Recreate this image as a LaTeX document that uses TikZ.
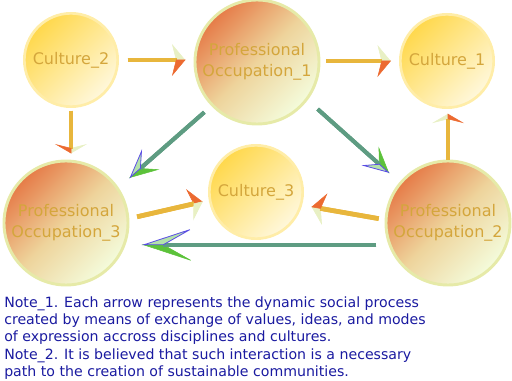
\documentclass[tikz,border=0pt]{standalone}
\usepackage{fontspec}
\setmainfont{DejaVu Sans}
\usetikzlibrary{arrows.meta}
\definecolor{cultTop}{HTML}{FFD84C}
\definecolor{cultBot}{HTML}{FFF8DC}
\definecolor{cultRim}{HTML}{FFEDA8}
\definecolor{profTop}{HTML}{E67C48}
\definecolor{profMid}{HTML}{EED49C}
\definecolor{profBot}{HTML}{F4FCDC}
\definecolor{profRim}{HTML}{E6EAA8}
\definecolor{labelGold}{HTML}{D4A63C}
\definecolor{warmLine}{HTML}{E8B63C}
\definecolor{warmRed}{HTML}{EC6A30}
\definecolor{warmPale}{HTML}{E8F0C4}
\definecolor{tealLine}{HTML}{5E9C82}
\definecolor{tealGreen}{HTML}{5CC23A}
\definecolor{tealPale}{HTML}{B4E2AC}
\definecolor{tealBlue}{HTML}{5A4CE6}
\definecolor{noteBlue}{HTML}{1A1AA0}

\begin{document}
\begin{tikzpicture}[x=0.75pt, y=-0.75pt,
  culture/.style={circle, minimum size=70pt, inner sep=0pt, draw=cultRim, line width=2pt,
                  top color=cultTop, bottom color=cultBot, shading angle=45,
                  text=labelGold, font=\fontsize{12}{16}\selectfont},
  prof/.style={circle, minimum size=93pt, inner sep=0pt, draw=profRim, line width=2.2pt,
               top color=profTop, bottom color=profBot, middle color=profMid, shading angle=45,
               align=center, text=labelGold, font=\fontsize{12}{16}\selectfont},
  warm/.style n args={3}{line width=3.5pt, draw=warmLine,
    -{Stealth[left, length=#3, width=24pt, inset=3pt, fill=#1, color=#1, line width=0.4pt]},
    postaction={draw=warmLine, line width=3.5pt,
    -{Stealth[right, length=#3, width=24pt, inset=3pt, fill=#2, color=#2, line width=0.4pt]}}},
  teal/.style n args={3}{line width=3pt, draw=tealLine,
    -{Stealth[left, length=#1, width=#2, inset=#3, fill=tealGreen, color=tealGreen, line width=0.4pt]},
    postaction={draw=tealLine, line width=3pt,
    -{Stealth[right, length=#1, width=#2, inset=#3, fill=tealPale, color=tealBlue, line width=0.6pt]}}}
]
\useasboundingbox (0,0) rectangle (512,381);

\node[culture] (c2) at (71,60)   {Culture\_2};
\node[prof]    (p1) at (257,62)  {Professional\\Occupation\_1};
\node[culture] (c1) at (447,61)  {Culture\_1};
\node[culture] (c3) at (256,192) {Culture\_3};
\node[prof]    (p3) at (66,223)  {Professional\\Occupation\_3};
\node[prof]    (p2) at (448,223) {Professional\\Occupation\_2};

% warm arrows: culture <-> occupation
\draw[warm={warmPale}{warmRed}{10pt}, shorten <=6.5pt, shorten >=6pt] (c2.east) -- (c2.east -| p1.west);
\draw[warm={warmPale}{warmRed}{10pt}, shorten <=4.5pt, shorten >=6pt] (c1.west -| p1.east) -- (c1.west);
\draw[warm={warmPale}{warmRed}{7pt}, shorten <=2pt, shorten >=4.5pt] (c2.south) -- (c2.south |- p3.north);
\draw[warm={warmPale}{warmRed}{7pt}, shorten >=3.5pt] (p2.north) -- (p2.north |- c1.south);
\draw[warm={warmRed}{warmPale}{10pt}, shorten <=6pt, shorten >=4.5pt] (p3.4) -- (c3.190);
\draw[warm={warmPale}{warmRed}{10pt}, shorten <=4.5pt, shorten >=7pt] (p2.177) -- (c3.-16);

% teal arrows: occupation <-> occupation
\draw[teal={21pt}{20pt}{10pt}, shorten <=7pt, shorten >=10.5pt] (p1.224) -- (p3.34);
\draw[teal={19pt}{19pt}{9pt}, shorten <=10pt, shorten >=10pt] (p1.-37) -- (p2.140);
\draw[teal={38pt}{25pt}{22pt}, shorten <=9pt, shorten >=12pt] (p2.200) -- (p3.-20);

\node[anchor=north west, align=left, inner sep=0pt, text=noteBlue,
      font=\fontsize{10.6}{13.1}\selectfont] (notes) at (4,296)
  {Note\_1. Each arrow represents the dynamic social process\\
   created by means of exchange of values, ideas, and modes\\
   of expression accross disciplines and cultures.\\
   Note\_2. It is believed that such interaction is a necessary\\
   path to the creation of sustainable communities.};
\end{tikzpicture}
\end{document}
